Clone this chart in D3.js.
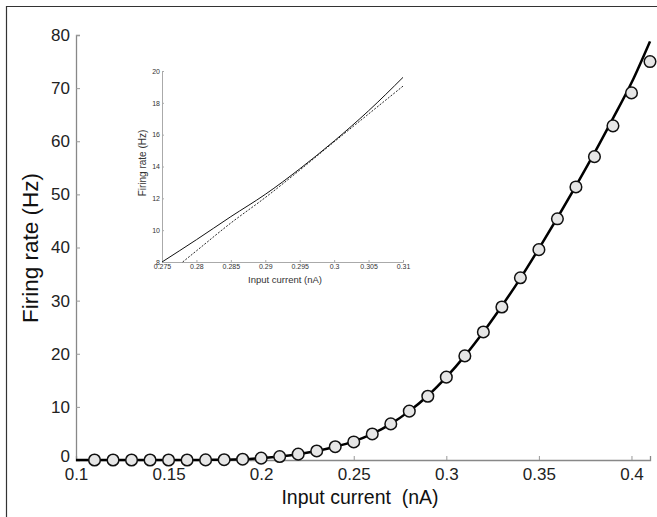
<!DOCTYPE html>
<html lang="en">
<head>
    <meta charset="UTF-8">
    <title>Firing rate vs input current</title>
    <style>
        body{
            margin:0;
            background:#fff;
        }
        text{
            font-family:"Liberation Sans", Arial, sans-serif;
        }
    </style>
    <script src="https://cdn.jsdelivr.net/npm/d3@7"></script>
</head>
<body>
<div id='container'></div>
</body>
<script>
    // main panel: measured points and fitted curve
    var currents = [0.11, 0.12, 0.13, 0.14, 0.15, 0.16, 0.17, 0.18, 0.19, 0.20, 0.21,
        0.22, 0.23, 0.24, 0.25, 0.26, 0.27, 0.28, 0.29, 0.30, 0.31,
        0.32, 0.33, 0.34, 0.35, 0.36, 0.37, 0.38, 0.39, 0.40, 0.41];
    var rates = [0, 0, 0, 0, 0, 0, 0.02, 0.05, 0.15, 0.35, 0.65,
        1.1, 1.7, 2.5, 3.4, 4.9, 6.8, 9.2, 12.0, 15.6, 19.6,
        24.1, 28.8, 34.3, 39.6, 45.4, 51.4, 57.1, 62.9, 69.1, 75.0];
    var fitX = [0.10, 0.11, 0.12, 0.13, 0.14, 0.15, 0.16, 0.17, 0.18, 0.19, 0.20, 0.21,
        0.22, 0.23, 0.24, 0.25, 0.26, 0.27, 0.28, 0.29, 0.30, 0.31,
        0.32, 0.33, 0.34, 0.35, 0.36, 0.37, 0.38, 0.39, 0.40, 0.41];
    var fitY = [0, 0, 0, 0, 0, 0, 0, 0.02, 0.05, 0.15, 0.35, 0.65,
        1.1, 1.7, 2.5, 3.5, 4.9, 6.8, 9.2, 12.1, 15.6, 19.6,
        24.1, 29.0, 34.2, 39.8, 45.6, 51.6, 57.8, 64.3, 71.0, 78.8];
    var xTicks = [0.1, 0.15, 0.2, 0.25, 0.3, 0.35, 0.4],
        yTicks = [0, 10, 20, 30, 40, 50, 60, 70, 80];

    // inset: zoom on the curve with the dashed approximation
    var insetSolidX = [0.275, 0.28, 0.285, 0.29, 0.295, 0.30, 0.305, 0.31],
        insetSolidY = [8.0, 9.4, 10.85, 12.25, 13.85, 15.6, 17.5, 19.6];
    var insetDashX = [0.278, 0.28, 0.285, 0.29, 0.295, 0.30, 0.305, 0.31],
        insetDashY = [8.0, 8.7, 10.45, 12.05, 13.77, 15.55, 17.3, 19.05];
    var insetXTicks = [0.275, 0.28, 0.285, 0.29, 0.295, 0.3, 0.305, 0.31],
        insetXLabels = ['0.275', '0.28', '0.285', '0.29', '0.295', '0.3', '0.305', '0.31'],
        insetYTicks = [8, 10, 12, 14, 16, 18, 20];

    var w = 657, h = 517;
    var svg = d3.select('#container').append('svg').attr('width', w).attr('height', h);

    // frame
    svg.append('path').attr('d', 'M6.5,' + h + 'V6.5H' + w)
        .attr('fill', 'none').attr('stroke', '#333').attr('stroke-width', 1.2);

    var xScale = d3.scaleLinear().domain([0.1, 0.41]).range([76, 650]),
        yScale = d3.scaleLinear().domain([0, 80]).range([460, 35]);

    var xAxis = d3.axisBottom(xScale).tickValues(xTicks).tickSize(-4).tickPadding(8).tickFormat(d3.format('')),
        yAxis = d3.axisLeft(yScale).tickValues(yTicks).tickSize(-4).tickPadding(6);

    var gx = svg.append('g').attr('transform', 'translate(0,460)').call(xAxis);
    var gy = svg.append('g').attr('transform', 'translate(76,0)').call(yAxis);
    [gx, gy].forEach(function (g) {
        g.select('.domain').attr('stroke', '#888').attr('stroke-width', 1.3);
        g.selectAll('.tick line').attr('stroke', '#999');
        g.selectAll('.tick text').attr('fill', '#222').attr('font-size', '17px')
            .attr('font-family', '"Liberation Sans", Arial, sans-serif');
    });
    gy.selectAll('.tick text').filter(function (d) { return d === 0; }).attr('dy', '0.1em');

    svg.append('text').text('Input current  (nA)')
        .attr('x', 360).attr('y', 504).attr('text-anchor', 'middle')
        .attr('font-size', '19.5px').attr('fill', '#111').style('white-space', 'pre');
    svg.append('text').text('Firing rate (Hz)')
        .attr('transform', 'translate(38,248) rotate(-90)').attr('text-anchor', 'middle')
        .attr('font-size', '22.5px').attr('fill', '#111');

    var fitLine = d3.line()
        .x(function (d, i) { return xScale(fitX[i]); })
        .y(function (d) { return yScale(d); })
        .curve(d3.curveMonotoneX);
    svg.append('path').datum(fitY).attr('d', fitLine)
        .attr('fill', 'none').attr('stroke', '#000').attr('stroke-width', 2.5);

    svg.selectAll('circle.pt').data(rates).enter().append('circle')
        .attr('class', 'pt')
        .attr('cx', function (d, i) { return xScale(currents[i]); })
        .attr('cy', function (d) { return yScale(d); })
        .attr('r', 5.8)
        .attr('fill', '#e6e6e6').attr('stroke', '#111').attr('stroke-width', 1.5);

    // inset
    var ix = d3.scaleLinear().domain([0.275, 0.31]).range([162, 403]),
        iy = d3.scaleLinear().domain([8, 20]).range([262, 71]);
    var ixAxis = d3.axisBottom(ix).tickValues(insetXTicks).tickSize(-2).tickPadding(2)
            .tickFormat(function (d, i) { return insetXLabels[i]; }),
        iyAxis = d3.axisLeft(iy).tickValues(insetYTicks).tickSize(-2).tickPadding(2);
    var igx = svg.append('g').attr('transform', 'translate(0,262)').call(ixAxis);
    var igy = svg.append('g').attr('transform', 'translate(162,0)').call(iyAxis);
    [igx, igy].forEach(function (g) {
        g.select('.domain').attr('stroke', '#aaa').attr('stroke-width', 1);
        g.selectAll('.tick line').attr('stroke', '#aaa');
        g.selectAll('.tick text').attr('fill', '#333').attr('font-size', '7px')
            .attr('font-family', '"Liberation Sans", Arial, sans-serif');
    });
    svg.append('text').text('Input current (nA)')
        .attr('x', 285).attr('y', 283).attr('text-anchor', 'middle')
        .attr('font-size', '9.5px').attr('fill', '#333');
    svg.append('text').text('Firing rate (Hz)')
        .attr('transform', 'translate(146,163) rotate(-90)').attr('text-anchor', 'middle')
        .attr('font-size', '10px').attr('fill', '#333');

    svg.append('path').datum(insetSolidY)
        .attr('d', d3.line()
            .x(function (d, i) { return ix(insetSolidX[i]); })
            .y(function (d) { return iy(d); })
            .curve(d3.curveMonotoneX))
        .attr('fill', 'none').attr('stroke', '#111').attr('stroke-width', 1);
    svg.append('path').datum(insetDashY)
        .attr('d', d3.line()
            .x(function (d, i) { return ix(insetDashX[i]); })
            .y(function (d) { return iy(d); })
            .curve(d3.curveMonotoneX))
        .attr('fill', 'none').attr('stroke', '#111').attr('stroke-width', 0.9)
        .attr('stroke-dasharray', '2,1.5');
</script>
</html>
